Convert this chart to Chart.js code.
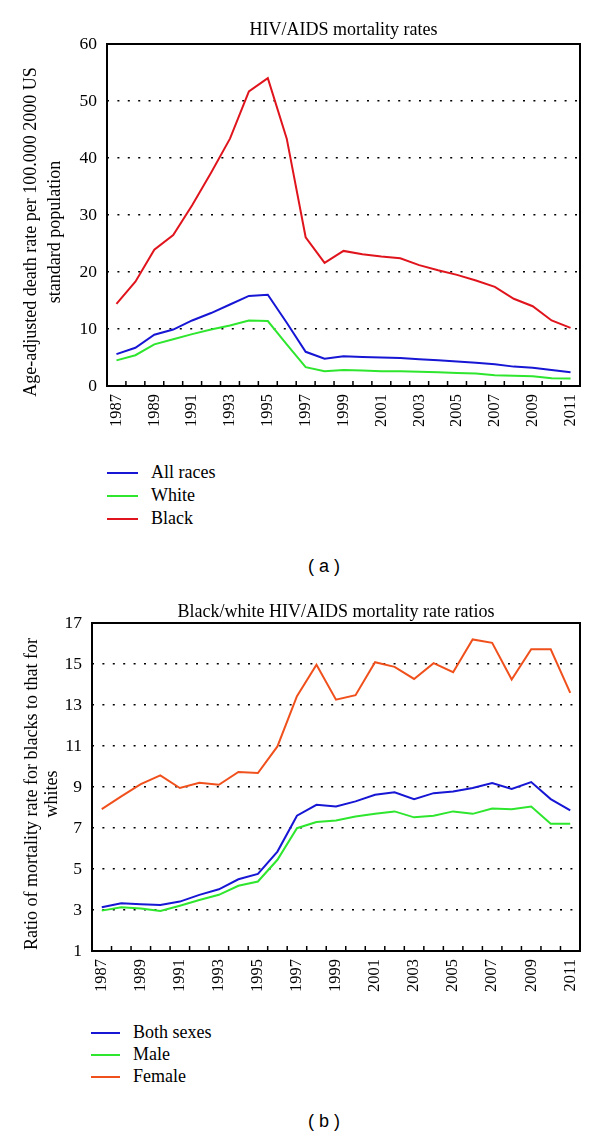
<!DOCTYPE html>
<html>
<head>
<meta charset="utf-8">
<script src="https://cdn.jsdelivr.net/npm/chart.js"></script>
<style>
  body { margin: 0; background: #fff; }
  #page { position: relative; width: 600px; height: 1139px; overflow: hidden; font-family: 'Liberation Serif', serif; color: #000; }
  .box { position: absolute; left: 0; width: 600px; height: 440px; }
  .ytitle { position: absolute; width: 420px; text-align: center; font-size: 18px; white-space: nowrap;
            transform: translate(-50%, -50%) rotate(-90deg); }
  .legend { position: absolute; font-size: 18px; }
  .legend .item { position: absolute; white-space: nowrap; }
  .legend .sw { position: absolute; height: 2px; }
  .cap { position: absolute; width: 120px; margin-left: -60px; text-align: center;
         font-family: 'Liberation Sans', sans-serif; font-size: 18px; }
</style>
</head>
<body>
<div id="page">
  <div class="box" style="top:0"><canvas id="chartA"></canvas></div>
  <div class="ytitle" id="ytA" style="left:42px; top:232px; line-height:24px"></div>
  <div class="legend" id="legA"></div>
  <div class="cap" style="left:324px; top:556px">( a )</div>

  <div class="box" style="top:580px"><canvas id="chartB"></canvas></div>
  <div class="ytitle" id="ytB" style="left:41px; top:794px; line-height:20px"></div>
  <div class="legend" id="legB"></div>
  <div class="cap" style="left:324px; top:1111px">( b )</div>
</div>
<script>
const years = ['1987','1988','1989','1990','1991','1992','1993','1994','1995','1996','1997','1998','1999',
               '2000','2001','2002','2003','2004','2005','2006','2007','2008','2009','2010','2011'];

// (a) age-adjusted death rates
const titleA = 'HIV/AIDS mortality rates';
const yTitleA = ['Age-adjusted death rate per 100.000 2000 US', 'standard population'];
const seriesA = ['All races', 'White', 'Black'];
const allRaces = [5.6, 6.7, 9.0, 9.9, 11.5, 12.8, 14.3, 15.8, 16.0, 11.1, 6.0, 4.8, 5.2, 5.1, 5.0, 4.9, 4.7, 4.5, 4.3, 4.1, 3.8, 3.4, 3.2, 2.8, 2.4];
const white    = [4.5, 5.4, 7.3, 8.2, 9.1, 9.9, 10.6, 11.5, 11.4, 7.3, 3.3, 2.6, 2.8, 2.7, 2.6, 2.6, 2.5, 2.4, 2.3, 2.2, 1.9, 1.8, 1.7, 1.35, 1.3];
const black    = [14.4, 18.3, 23.9, 26.5, 31.7, 37.4, 43.4, 51.7, 54.0, 43.4, 26.1, 21.6, 23.7, 23.1, 22.7, 22.4, 21.2, 20.3, 19.5, 18.5, 17.4, 15.3, 14.0, 11.5, 10.2];

// (b) black/white ratios
const titleB = 'Black/white HIV/AIDS mortality rate ratios';
const yTitleB = ['Ratio of mortality rate for blacks to that for', 'whites'];
const seriesB = ['Both sexes', 'Male', 'Female'];
const bothSexes = [3.13, 3.33, 3.28, 3.25, 3.41, 3.74, 4.01, 4.5, 4.76, 5.85, 7.6, 8.13, 8.05, 8.3, 8.62, 8.74, 8.41, 8.7, 8.78, 8.95, 9.19, 8.9, 9.24, 8.41, 7.86];
const male      = [2.97, 3.13, 3.07, 2.95, 3.21, 3.49, 3.74, 4.18, 4.39, 5.45, 6.99, 7.29, 7.37, 7.56, 7.69, 7.81, 7.52, 7.6, 7.81, 7.69, 7.95, 7.92, 8.05, 7.21, 7.21];
const female    = [7.92, 8.54, 9.14, 9.57, 8.95, 9.21, 9.11, 9.73, 9.68, 10.98, 13.43, 14.96, 13.26, 13.48, 15.09, 14.86, 14.27, 15.04, 14.6, 16.2, 16.03, 14.24, 15.72, 15.72, 13.59];

const colorsA = ['#1616d4', '#2ee62e', '#e0141c'];
const colorsB = ['#1616d4', '#2ee62e', '#f0501c'];

const serif = 'Liberation Serif';

// plot frame + inward ticks between the year positions
const framePlugin = {
  id: 'frame',
  afterDraw(chart) {
    const ctx = chart.ctx, a = chart.chartArea, xs = chart.scales.x;
    ctx.save();
    ctx.strokeStyle = '#000';
    ctx.lineWidth = 1.5;
    ctx.beginPath();
    for (let i = 1; i < years.length; i++) {
      const x = (xs.getPixelForValue(i - 1) + xs.getPixelForValue(i)) / 2;
      ctx.moveTo(x, a.bottom);
      ctx.lineTo(x, a.bottom - 5);
    }
    ctx.stroke();
    ctx.lineWidth = 2;
    ctx.strokeRect(a.left, a.top, a.right - a.left, a.bottom - a.top);
    ctx.restore();
  }
};

function makeChart(id, title, names, colors, data, yMin, yMax, step, yWidth, xHeight, titlePad) {
  return new Chart(document.getElementById(id), {
    type: 'line',
    data: {
      labels: years,
      datasets: names.map((n, i) => ({
        label: n, data: data[i], borderColor: colors[i], borderWidth: 2,
        pointRadius: 0, tension: 0, fill: false
      }))
    },
    options: {
      responsive: true, maintainAspectRatio: false, animation: false,
      layout: { padding: { left: 0, right: 20, top: 0, bottom: 0 } },
      plugins: {
        legend: { display: false },
        tooltip: { enabled: false },
        title: {
          display: true, text: title, fullSize: false, color: '#000',
          font: { family: serif, size: 18, weight: 'normal' },
          padding: titlePad
        }
      },
      scales: {
        x: {
          type: 'category', offset: true,
          grid: { display: false, drawTicks: false },
          border: { display: false },
          afterFit(s) { s.height = xHeight; },
          ticks: {
            autoSkip: false, maxRotation: 90, minRotation: 90, padding: 8, color: '#000',
            font: { family: serif, size: 16.5 },
            callback(v, i) { return i % 2 === 0 ? this.getLabelForValue(v) : ''; }
          }
        },
        y: {
          min: yMin, max: yMax,
          grid: { color: '#000', lineWidth: 1.5, drawTicks: false },
          border: { display: false, dash: [2, 8.4] },
          afterFit(s) { s.width = yWidth; },
          ticks: { stepSize: step, padding: 10, color: '#000', font: { family: serif, size: 17.5 } }
        }
      }
    },
    plugins: [framePlugin]
  });
}

function buildLegend(id, names, colors, ys, swLeft, swRight, textLeft) {
  const el = document.getElementById(id);
  names.forEach((n, i) => {
    const sw = document.createElement('div');
    sw.className = 'sw';
    sw.style.cssText = `left:${swLeft}px; width:${swRight - swLeft}px; top:${ys[i] - 1}px; background:${colors[i]}`;
    const t = document.createElement('div');
    t.className = 'item';
    t.style.cssText = `left:${textLeft}px; top:${ys[i] - 12}px; line-height:22px`;
    t.textContent = n;
    el.appendChild(sw);
    el.appendChild(t);
  });
}

document.getElementById('ytA').innerHTML = yTitleA.join('<br>');
document.getElementById('ytB').innerHTML = yTitleB.join('<br>');

makeChart('chartA', titleA, seriesA, colorsA, [allRaces, white, black], 0, 60, 10, 107, 54, { top: 19, bottom: 3.4 });
makeChart('chartB', titleB, seriesB, colorsB, [bothSexes, male, female], 1, 17, 2, 92, 69, { top: 21, bottom: 0.4 });

buildLegend('legA', seriesA, colorsA, [473, 496, 519], 107, 138, 151);
buildLegend('legB', seriesB, colorsB, [1033, 1055, 1077], 91, 120, 133);
</script>
</body>
</html>
